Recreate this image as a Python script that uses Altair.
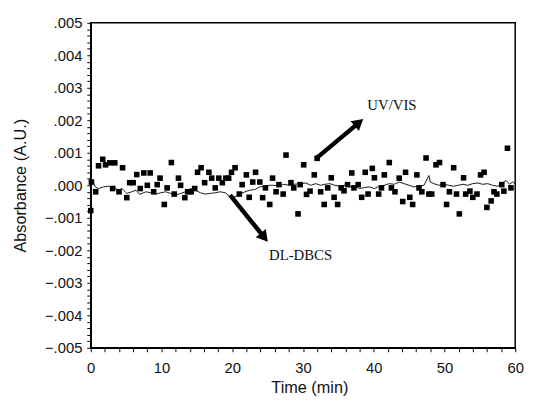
import altair as alt
import pandas as pd

# UV/VIS detector (square markers)
uv_time = [0.0, 0.1, 0.7, 1.1, 1.7, 2.1, 2.7, 3.1, 3.4, 4.0, 4.5, 5.1, 5.5, 6.0, 6.5, 7.0, 7.5, 8.0, 8.4, 8.9,
           9.4, 9.8, 10.4, 10.8, 11.4, 11.8, 12.4, 12.7, 13.3, 13.7, 14.2, 14.7, 15.1, 15.6, 16.1, 16.7, 17.1,
           17.6, 18.1, 18.6, 19.1, 19.5, 19.9, 20.4, 21.0, 21.4, 22.0, 22.4, 22.9, 23.3, 23.9, 24.3, 24.7, 25.3,
           25.7, 26.2, 26.6, 27.2, 27.6, 28.3, 28.7, 29.3, 29.6, 30.1, 30.5, 31.0, 31.6, 32.0, 32.5, 33.0, 33.5,
           34.0, 34.4, 34.9, 35.4, 35.8, 36.3, 36.9, 37.2, 37.8, 38.3, 38.8, 39.2, 39.8, 40.1, 40.7, 41.1, 41.5,
           42.2, 42.5, 43.0, 43.6, 44.1, 44.5, 45.1, 45.5, 46.1, 46.4, 46.8, 47.4, 47.8, 48.2, 48.8, 49.3, 49.8,
           50.3, 50.7, 51.3, 51.7, 52.1, 52.7, 53.0, 53.6, 54.0, 54.6, 55.1, 55.6, 56.0, 56.6, 57.0, 57.4, 58.1,
           58.4, 58.9, 59.4]
uv_abs = [-0.00078, 0.00010, -0.00020, 0.00060, 0.00080, 0.00063, 0.00069, -0.00010, 0.00069, -0.00020,
          0.00054, -0.00038, 0.00008, 0.00008, 0.00033, -0.00010, 0.00038, 0.00000, 0.00038, -0.00020,
          0.00002, 0.00022, -0.00059, -0.00008, 0.00070, -0.00027, 0.00022, 0.00000, -0.00038, -0.00020,
          -0.00020, -0.00010, 0.00040, 0.00054, 0.00008, 0.00040, 0.00022, -0.00008, 0.00022, 0.00008,
          0.00022, 0.00022, 0.00040, 0.00054, -0.00027, 0.00002, 0.00032, -0.00037, 0.00010, 0.00040,
          0.00010, -0.00038, -0.00008, -0.00059, 0.00022, -0.00020, 0.00002, -0.00027, 0.00093, 0.00008,
          -0.00008, -0.00088, 0.00002, 0.00063, -0.00028, -0.00018, 0.00032, 0.00083, -0.00020, -0.00059,
          -0.00008, 0.00023, -0.00037, -0.00059, -0.00008, -0.00017, 0.00002, 0.00038, -0.00008, 0.00002,
          -0.00037, 0.00040, -0.00027, 0.00052, 0.00023, -0.00027, -0.00008, 0.00032, 0.00070, -0.00008,
          -0.00020, 0.00022, -0.00050, 0.00040, -0.00037, -0.00059, 0.00032, -0.00008, -0.00020, 0.00084,
          -0.00027, -0.00027, 0.00063, 0.00070, 0.00002, -0.00059, -0.00020, 0.00054, -0.00027, -0.00088,
          0.00023, -0.00027, -0.00018, -0.00037, -0.00027, 0.00032, 0.00040, -0.00068, -0.00048, -0.00020,
          -0.00027, 0.00002, -0.00018, 0.00114, -0.00008]

# DL-DBCS detector (thin line)
dl_time = [0.0, 0.2, 0.65, 1.1, 1.8, 2.5, 3.2, 3.9, 4.4, 5.1, 5.8, 6.4, 6.9, 7.8, 8.5, 9.2, 9.9, 10.6, 11.3,
           12.0, 12.7, 13.4, 14.1, 14.8, 15.5, 16.2, 16.9, 17.6, 18.3, 19.0, 19.7, 20.4, 21.1, 21.8, 22.5,
           23.2, 23.9, 24.6, 25.3, 25.9, 26.6, 27.3, 28.0, 28.7, 29.7, 30.4, 31.1, 31.8, 32.5, 33.1, 33.8,
           34.5, 35.2, 35.9, 36.6, 37.3, 38.0, 38.7, 39.4, 40.1, 40.8, 41.5, 42.2, 42.9, 43.6, 44.3, 45.0,
           45.7, 46.4, 47.1, 47.8, 48.0, 48.5, 49.2, 49.9, 50.6, 51.3, 51.9, 52.6, 53.3, 54.0, 54.7, 55.4,
           56.1, 56.8, 57.5, 58.2, 58.7, 59.2, 59.6, 60.0]
dl_abs = [0.00020, 0.00015, -0.00005, -0.00010, -0.00005, -0.00003, -0.00005, -0.00015, -0.00010, -0.00025,
          -0.00020, -0.00015, -0.00028, -0.00020, -0.00023, -0.00027, -0.00023, -0.00020, -0.00025, -0.00030,
          -0.00025, -0.00020, -0.00010, -0.00015, -0.00023, -0.00027, -0.00025, -0.00023, -0.00020, -0.00023,
          -0.00035, -0.00035, -0.00027, -0.00020, -0.00015, -0.00013, -0.00005, -0.00003, 0.00000, 0.00000,
          -0.00003, 0.00003, 0.00000, 0.00003, 0.00005, 0.00007, 0.00000, 0.00005, 0.00000, 0.00003, 0.00005,
          0.00000, -0.00003, 0.00000, -0.00005, -0.00003, -0.00010, -0.00007, -0.00005, -0.00010, -0.00003,
          0.00000, 0.00005, 0.00003, 0.00010, 0.00005, 0.00000, -0.00005, -0.00003, 0.00000, 0.00030, 0.00010,
          0.00005, 0.00000, 0.00003, 0.00000, -0.00003, 0.00000, 0.00003, 0.00000, 0.00005, 0.00007, 0.00003,
          0.00005, 0.00000, -0.00003, 0.00007, 0.00015, 0.00003, 0.00010, 0.00005]

# annotations
label_text = ["UV/VIS", "DL-DBCS"]
label_time = [39.1, 25.2]
label_abs = [0.00248, -0.00215]
arrow_t0 = [32.0, 19.7]
arrow_a0 = [0.00085, -0.00030]
arrow_t1 = [38.8, 25.25]
arrow_a1 = [0.00209, -0.00180]
arrow_angle = [50, 141]

uv_df = pd.DataFrame({"t": uv_time, "a": uv_abs})
dl_df = pd.DataFrame({"t": dl_time, "a": dl_abs})
lab_df = pd.DataFrame({"t": label_time, "a": label_abs, "txt": label_text})
f = 0.87
arr_df = pd.DataFrame({
    "t": arrow_t0, "a": arrow_a0,
    "t2": [s + f * (e - s) for s, e in zip(arrow_t0, arrow_t1)],
    "a2": [s + f * (e - s) for s, e in zip(arrow_a0, arrow_a1)],
    "ang": arrow_angle,
})
head_df = pd.DataFrame({"t": arr_df["t2"], "a": arr_df["a2"], "ang": arrow_angle})

FONT = "Liberation Sans"

x_enc = alt.X(
    "t:Q",
    scale=alt.Scale(domain=[0, 60], nice=False, zero=False),
    axis=alt.Axis(
        values=list(range(0, 61, 2)),
        labelExpr="datum.value % 10 == 0 ? datum.label : ''",
        title="Time (min)",
        grid=False, domainColor="black", domainWidth=1.5, tickColor="black", tickSize=4,
        labelFont=FONT, labelFontSize=15, labelColor="#111", labelPadding=9,
        labelOverlap=False, labelFlush=False, labelBound=False,
        titleFont=FONT, titleFontSize=16.5, titleFontWeight="normal", titleColor="#111",
        titleX=222, titleY=40, titleBaseline="middle", titleAlign="center",
    ),
)
y_vals = [round(-0.005 + i * 0.0002, 4) for i in range(51)]
y_enc = alt.Y(
    "a:Q",
    scale=alt.Scale(domain=[-0.005, 0.005], nice=False, zero=False),
    axis=alt.Axis(
        values=y_vals,
        labelExpr="abs(datum.value*1000 - round(datum.value*1000)) < 0.001 ? replace(replace(format(datum.value, '.3f'), '0.', '.'), '-', '\u2212') : ''",
        title="Absorbance (A.U.)",
        grid=False, domainColor="black", domainWidth=1.5, tickColor="black", tickSize=4,
        labelFont=FONT, labelFontSize=15, labelColor="#111", labelPadding=5,
        labelOverlap=False, labelFlush=False, labelBound=False,
        titleFont=FONT, titleFontSize=16.5, titleFontWeight="normal", titleColor="#111",
        titleX=-71, titleY=165, titleAngle=-90, titleBaseline="middle", titleAlign="center",
    ),
)

pts = alt.Chart(uv_df).mark_square(size=32, color="black", opacity=1).encode(x=x_enc, y=y_enc)
line = alt.Chart(dl_df).mark_line(color="black", strokeWidth=0.9).encode(x=x_enc, y=y_enc)
arrows = alt.Chart(arr_df).mark_rule(color="black", strokeWidth=4.5).encode(
    x=x_enc, y=y_enc, x2="t2:Q", y2="a2:Q")
heads = alt.Chart(head_df).mark_point(shape="triangle-up", filled=True, color="black", size=170, opacity=1).encode(
    x=x_enc, y=y_enc, angle=alt.Angle("ang:Q", scale=None))
texts = alt.Chart(lab_df).mark_text(font="Liberation Serif", fontSize=15, align="left", baseline="middle",
                                    color="#111").encode(x=x_enc, y=y_enc, text="txt:N")

chart = alt.layer(pts, line, arrows, heads, texts).properties(
    width=431, height=330,
    autosize=alt.AutoSizeParams(type="none"),
    padding={"left": 84, "top": 12, "right": 14, "bottom": 50},
).configure_view(stroke="black", strokeWidth=1.5)

chart.save("out.html", embed_options={"renderer": "svg", "actions": False})
